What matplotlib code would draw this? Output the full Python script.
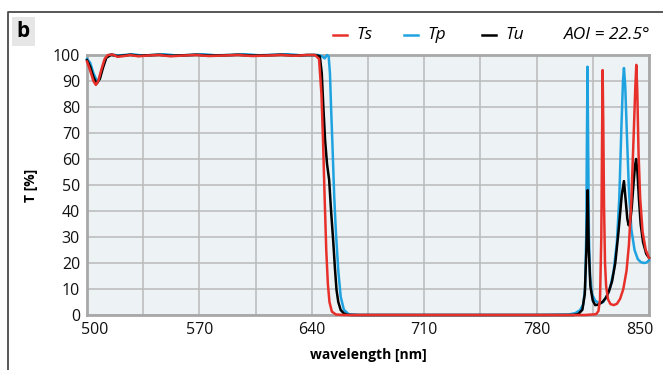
import matplotlib
matplotlib.use("Agg")
import matplotlib.pyplot as plt
from matplotlib.lines import Line2D
from matplotlib.patches import Rectangle
import matplotlib.transforms as mtransforms

plt.rcParams['font.family'] = ['Open Sans', 'DejaVu Sans']

# ---------------- data ----------------
x_ticks = [500, 570, 640, 710, 780, 850]
y_ticks = [0, 10, 20, 30, 40, 50, 60, 70, 80, 90, 100]

wl_s = [500, 502, 504, 505.5, 507, 509, 511, 513, 516, 519, 523, 527, 532, 538, 545, 552,
        560, 568, 576, 585, 594, 603, 612, 621, 630, 637, 642, 644.5, 646, 647, 648, 649,
        650, 651, 652.5, 655, 660, 700, 760, 810, 817, 818.5, 819.5, 820.3, 820.8, 821.1,
        821.5, 822, 822.6, 823.3, 824.5, 826, 828, 830, 832, 834, 836, 837.5, 839, 840.5,
        841.5, 842.1, 842.7, 843.5, 844.5, 846, 848, 850]
T_s = [97.5, 94, 90, 88.5, 90, 94.5, 98.5, 100, 100.2, 99.3, 99.6, 100, 99.5, 99.8, 100, 99.5,
       99.8, 100, 99.6, 99.8, 100, 99.6, 99.8, 100, 99.7, 100, 100, 98.5, 85, 67, 45, 25,
       12, 5, 1.3, 0.2, 0, 0, 0, 0, 0.3, 1.5, 6, 30, 70, 94.2,
       75, 42, 20, 11, 6, 4.2, 3.8, 4.3, 6.2, 10, 17, 27, 44, 70,
       88, 96.2, 86, 62, 45, 32, 25, 22]

wl_p = [500, 502, 504, 506.4, 508, 510, 512, 515, 519, 523, 528, 534, 541, 548, 556, 564,
        572, 580, 589, 598, 607, 616, 625, 633, 640, 644, 646.5, 648, 649.5, 650.5, 651.3,
        652, 653, 654, 655, 656.5, 658, 660, 663, 670, 720, 780, 800, 804, 807, 809, 810.2,
        810.9, 811.3, 811.7, 812.1, 812.6, 813.3, 814.5, 816.5, 819, 821.5, 824, 826, 828,
        830, 831.5, 832.8, 833.8, 834.4, 835.2, 836.2, 837.5, 839, 841, 843, 845, 847,
        848.5, 850]
T_p = [98.5, 97, 93, 89.7, 91.5, 96, 99.3, 100.3, 99.8, 100, 100.3, 99.8, 100, 100.3, 99.8, 100,
       100.3, 99.9, 100, 100.3, 99.9, 100.1, 100.3, 99.9, 100, 100, 99.5, 98.7, 100, 99.5, 93,
       80, 63, 45, 32, 17, 7, 2, 0.3, 0, 0, 0, 0.2, 0.7, 1.8, 4, 10,
       30, 65, 95.5, 65, 30, 15, 8, 5.5, 4.5, 5, 7.5, 11, 17,
       28, 45, 72, 90, 95, 88, 70, 48, 33, 25, 21.5, 20.3, 20,
       20.2, 21]

wl_u = [500, 502, 504, 506, 508, 510, 512, 515, 519, 523, 527, 532, 538, 545, 552, 560, 568,
        576, 585, 594, 603, 612, 621, 630, 637, 642, 645, 646.2, 647.2, 648.3, 649.5, 650.8,
        652, 653.3, 654.4, 655.4, 656.5, 658, 660, 662, 665, 700, 780, 803, 806, 808.5, 810,
        811, 811.8, 812.5, 813.5, 815, 816.5, 818.5, 821, 823, 825, 827, 829, 831, 833,
        834.4, 835.5, 836.5, 837.3, 838.2, 839.2, 840.3, 841.2, 842, 842.8, 843.7, 844.8,
        846.3, 848.3, 850]
T_u = [98, 95.5, 91.5, 89, 90.8, 95.2, 98.9, 100.1, 99.6, 99.8, 100.1, 99.7, 99.9, 100.1, 99.7, 99.9, 100.1,
       99.8, 99.9, 100.1, 99.8, 99.9, 100.1, 99.8, 100, 100, 99.5, 93, 80, 67, 58, 52,
       40, 28.8, 18, 9.6, 5, 1.9, 0.6, 0.1, 0, 0, 0, 0, 0.4, 2, 8,
       25, 48, 25, 11, 5.5, 3.8, 4, 5, 6.5, 9, 13, 20, 32, 46,
       51.5, 44, 37, 34.5, 35.5, 41, 50, 57, 60, 55, 45, 35,
       28, 23.5, 22]

series_names = ["Ts", "Tp", "Tu"]
series_colors = ["#e8302a", "#1ea3e0", "#000000"]

# ---------------- figure ----------------
W, H = 663, 370
fig = plt.figure(figsize=(W / 100, H / 100), dpi=100)
ax = fig.add_axes([87 / W, 1 - 315 / H, 562 / W, 260 / H])
ax.set_facecolor("#edf2f5")

for wl, T, c in [(wl_p, T_p, series_colors[1]), (wl_u, T_u, series_colors[2]), (wl_s, T_s, series_colors[0])]:
    ax.plot(wl, T, color=c, lw=1.8, zorder=5, clip_on=False, solid_joinstyle='round')

ax.set_xlim(500, 850)
ax.set_ylim(0, 100)
ax.set_xticks(x_ticks)
ax.set_xticks([535, 605, 675, 745, 815], minor=True)
ax.set_yticks(y_ticks)
ax.grid(True, which='both', color="#b9b9b9", lw=1.1, zorder=0)
ax.set_axisbelow(True)
ax.tick_params(which='both', length=0, labelsize=11.5, pad=5, colors="#111111")
for sp in ax.spines.values():
    sp.set_color("#a8a8a8")
    sp.set_linewidth(2)
    sp.set_zorder(3)

# shift end tick labels inward
labs = ax.get_xticklabels()
labs[0].set_transform(labs[0].get_transform() + mtransforms.ScaledTranslation(8 / 100, 0, fig.dpi_scale_trans))
labs[-1].set_transform(labs[-1].get_transform() + mtransforms.ScaledTranslation(-9 / 100, 0, fig.dpi_scale_trans))

fig.text(31 / W, 1 - 185 / H, "T [%]", rotation=90, ha='center', va='center',
         fontsize=10, fontweight='bold')
fig.text(368 / W, 1 - 355 / H, "wavelength [nm]", ha='center', va='center',
         fontsize=10, fontweight='bold')

# outer frame (left and top)
fig.add_artist(Line2D([7.5 / W, 7.5 / W, 1], [0, 1 - 11.5 / H, 1 - 11.5 / H],
                      transform=fig.transFigure, color="#4a4a4a", lw=1.3))

# panel letter
fig.add_artist(Rectangle((12 / W, 1 - 46 / H), 23 / W, 29 / H, transform=fig.transFigure,
                         facecolor="#e6e6e6", edgecolor='none'))
fig.text(23.5 / W, 1 - 31.5 / H, "b", ha='center', va='center', fontsize=15, fontweight='bold')

# legend
leg_y = 1 - 35 / H
leg_x = [333, 404, 482]
for x0, name, c in zip(leg_x, series_names, series_colors):
    fig.add_artist(Line2D([x0 / W, (x0 + 14) / W], [leg_y, leg_y], transform=fig.transFigure,
                          color=c, lw=1.8))
    fig.text((x0 + 23) / W, leg_y, name, ha='left', va='center', fontsize=12.5, style='italic')
fig.text(651 / W, leg_y, "AOI = 22.5°", ha='right', va='center', fontsize=12.5, style='italic')

fig.savefig("out.png", dpi=100)
